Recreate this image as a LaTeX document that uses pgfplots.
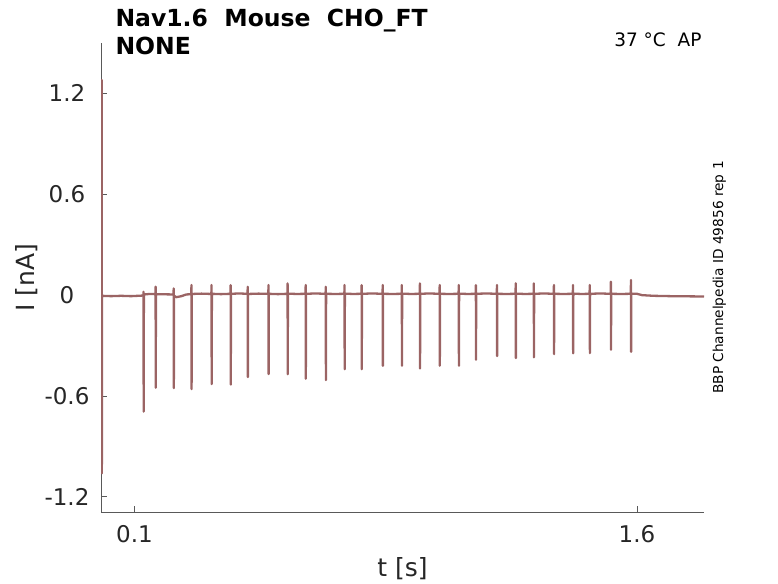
\documentclass[border=0pt]{standalone}
\usepackage{fontspec}
\setmainfont{DejaVu Sans}
\usepackage{pgfplots}
\pgfplotsset{compat=1.18}
\definecolor{trace}{RGB}{155,100,100}
\definecolor{axgray}{RGB}{38,38,38}
\begin{document}
\begin{tikzpicture}
\useasboundingbox (0pt,0pt) rectangle (778pt,583pt);
\begin{axis}[
  at={(101pt,71pt)}, anchor=south west,
  scale only axis, width=603pt, height=469pt,
  xmin=0, xmax=1.8, ymin=-1.29, ymax=1.5,
  axis x line*=bottom, axis y line*=left,
  axis line style={-, draw=black!65, line width=0.8pt},
  xtick={0.1,1.6}, xticklabels={0.1,1.6},
  ytick={-1.2,-0.6,0,0.6,1.2}, yticklabels={-1.2,-0.6,0,0.6,1.2},
  tick align=inside, major tick length=6pt,
  tick style={draw=black!65, line width=0.8pt},
  ticklabel style={font=\fontsize{23}{23}\selectfont, text=axgray},
  xticklabel style={anchor=base, yshift=-30pt},
  yticklabel style={anchor=center, xshift=-34pt},
  xlabel={t [s]}, ylabel={I [nA]},
  label style={font=\fontsize{25}{25}\selectfont, text=axgray},
  xlabel style={at={(axis description cs:0.5,-0.1365)}, anchor=base},
  ylabel style={at={(axis description cs:-0.1111,0.5)}, anchor=base},
]
\addplot[trace, line width=2.3pt, line join=round] coordinates {
(0.000,-0.004) (0.0015,-0.004) (0.0020,1.28) (0.0025,-1.06) (0.0032,-0.004)
(0.030,-0.006) (0.060,-0.004) (0.090,-0.006) (0.120,-0.003)
(0.1264,-0.002) (0.127,0.02) (0.1274,-0.693) (0.1280,0.004)
(0.145,0.007)
(0.1624,0.006) (0.163,0.05) (0.1634,-0.551) (0.1640,0.006)
(0.190,0.005)
(0.2164,0.004) (0.217,0.04) (0.2174,-0.553) (0.2180,-0.004) (0.225,-0.012) (0.240,-0.006) (0.255,0.004)
(0.2694,0.006) (0.270,0.06) (0.2704,-0.559) (0.2710,0.007)
(0.300,0.009)
(0.3294,0.007) (0.330,0.06) (0.3304,-0.529) (0.3310,0.008)
(0.358,0.006)
(0.3864,0.008) (0.387,0.06) (0.3874,-0.532) (0.3880,0.008)
(0.412,0.010)
(0.4374,0.008) (0.438,0.05) (0.4384,-0.487) (0.4390,0.007)
(0.470,0.009)
(0.4994,0.008) (0.500,0.06) (0.5004,-0.469) (0.5010,0.008)
(0.528,0.006)
(0.5564,0.008) (0.557,0.07) (0.5574,-0.471) (0.5580,0.009)
(0.584,0.007)
(0.6104,0.008) (0.611,0.06) (0.6114,-0.497) (0.6120,0.008)
(0.640,0.010)
(0.6704,0.008) (0.671,0.05) (0.6714,-0.505) (0.6720,0.008)
(0.700,0.007)
(0.7264,0.008) (0.727,0.06) (0.7274,-0.441) (0.7280,0.009)
(0.752,0.007)
(0.7774,0.008) (0.778,0.06) (0.7784,-0.441) (0.7790,0.008)
(0.810,0.010)
(0.8404,0.008) (0.841,0.06) (0.8414,-0.420) (0.8420,0.008)
(0.870,0.007)
(0.8974,0.008) (0.898,0.06) (0.8984,-0.420) (0.8990,0.009)
(0.925,0.007)
(0.9514,0.008) (0.952,0.07) (0.9524,-0.436) (0.9530,0.008)
(0.980,0.010)
(1.0104,0.008) (1.011,0.06) (1.0114,-0.420) (1.0120,0.008)
(1.040,0.007)
(1.0674,0.008) (1.068,0.06) (1.0684,-0.420) (1.0690,0.009)
(1.094,0.007)
(1.1184,0.008) (1.119,0.06) (1.1194,-0.384) (1.1200,0.008)
(1.150,0.010)
(1.1814,0.008) (1.182,0.06) (1.1824,-0.362) (1.1830,0.008)
(1.210,0.007)
(1.2374,0.008) (1.238,0.07) (1.2384,-0.374) (1.2390,0.009)
(1.265,0.007)
(1.2914,0.008) (1.292,0.07) (1.2924,-0.370) (1.2930,0.008)
(1.322,0.010)
(1.3514,0.008) (1.352,0.06) (1.3524,-0.351) (1.3530,0.008)
(1.380,0.007)
(1.4084,0.008) (1.409,0.06) (1.4094,-0.346) (1.4100,0.009)
(1.434,0.007)
(1.4584,0.008) (1.459,0.06) (1.4594,-0.345) (1.4600,0.008)
(1.490,0.010)
(1.5214,0.008) (1.522,0.08) (1.5224,-0.325) (1.5230,0.008)
(1.552,0.007)
(1.5814,0.008) (1.582,0.09) (1.5824,-0.337) (1.5830,0.008)
(1.600,0.008) (1.615,0.000) (1.650,-0.004) (1.700,-0.006) (1.750,-0.007) (1.800,-0.008)
};
\end{axis}
\node[anchor=base west, font=\bfseries\fontsize{23.5}{23.5}\selectfont] at (112pt,556pt) {Nav1.6\ \ Mouse\ \ CHO\_FT};
\node[anchor=base west, font=\bfseries\fontsize{23.5}{23.5}\selectfont] at (112pt,528pt) {NONE};
\node[anchor=base east, font=\fontsize{18.5}{18.5}\selectfont] at (705pt,536pt) {37 °C\ \ AP};
\node[anchor=base, rotate=90, font=\fontsize{13.7}{13.7}\selectfont] at (723pt,305.5pt) {BBP Channelpedia ID 49856 rep 1};
\end{tikzpicture}
\end{document}
